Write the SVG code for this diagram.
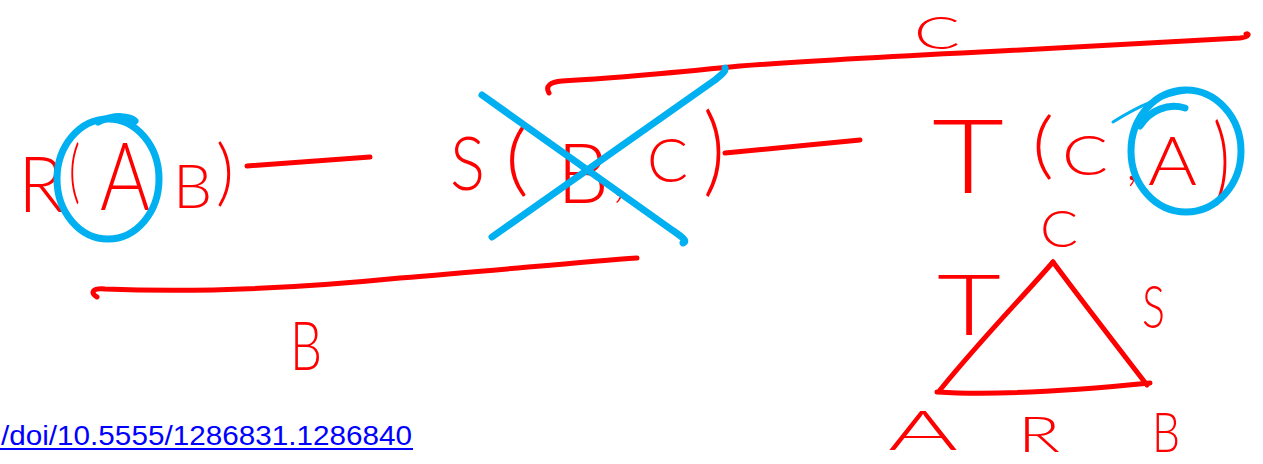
<svg xmlns="http://www.w3.org/2000/svg" width="1263" height="464" viewBox="0 0 1263 464">
<style>
.ink{fill:none;stroke:#ff0000;stroke-width:5;stroke-linecap:round;stroke-linejoin:round}
.blue{fill:none;stroke:#00b0f0;stroke-width:7;stroke-linecap:round;stroke-linejoin:round}
.hw{font-family:"Lato","Liberation Sans",sans-serif;font-weight:300;fill:#ff0000}
.link{font-family:"Liberation Sans",Arial,sans-serif;font-size:28px;fill:#0000ff}
</style>
<rect width="1263" height="464" fill="#ffffff"/>
<g id="connectors">
  <path class="ink" d="M247,166 L370,157"/>
  <path class="ink" d="M725,153 L860,140"/>
  <path class="ink" d="M549,93 C545,86 550,82 562,81 C620,78 680,72 740,66 C820,60 900,56 1000,51 C1100,46 1180,42 1240,38 C1250,37 1249,33 1246,34"/>
  <path class="ink" d="M97,297 C90,293 92,288 105,289 C200,293 300,288 400,278 C500,270 580,262 637,258"/>
  <path class="ink" d="M1053,262 C1020,300 985,335 940,390"/>
  <path class="ink" d="M1053,262 C1085,305 1120,350 1147,385"/>
  <path class="ink" d="M937,392 C1000,396 1080,390 1150,383"/>
  <text class="hw" x="914" y="49" font-size="46" textLength="46" lengthAdjust="spacingAndGlyphs">C</text>
  <text class="hw" x="290" y="370" font-size="67" textLength="32" lengthAdjust="spacingAndGlyphs">B</text>
</g>
<g id="node-R">
  <text class="hw" x="18" y="212" font-size="76">R</text>
  <text class="hw" x="69" y="195" font-size="69" textLength="11" lengthAdjust="spacingAndGlyphs">(</text>
  <text class="hw" x="100" y="210" font-size="94" textLength="50" lengthAdjust="spacingAndGlyphs">A</text>
  <text class="hw" x="173" y="208" font-size="62">B</text>
  <text class="hw" x="216" y="197" font-size="73" textLength="18" lengthAdjust="spacingAndGlyphs">)</text>
  <ellipse class="blue" cx="108" cy="179" rx="51" ry="60"/>
  <path class="blue" d="M98,122 C115,114 130,116 135,121"/>
</g>
<g id="node-S">
  <text class="hw" x="450" y="190" font-size="74" textLength="35" lengthAdjust="spacingAndGlyphs">S</text>
  <text class="hw" x="505" y="186" font-size="80" textLength="24" lengthAdjust="spacingAndGlyphs">(</text>
  <text class="hw" x="557" y="203" font-size="82">B</text>
  <text class="hw" x="612" y="196" font-size="56" textLength="14" lengthAdjust="spacingAndGlyphs">,</text>
  <text class="hw" x="647" y="182" font-size="61" textLength="41" lengthAdjust="spacingAndGlyphs">C</text>
  <text class="hw" x="703" y="184" font-size="99" textLength="22" lengthAdjust="spacingAndGlyphs">)</text>
  <path class="blue" d="M482,95 L672,230 C682,237 688,241 683,243"/>
  <path class="blue" d="M492,237 L715,80 C722,74 726,71 725,68"/>
</g>
<g id="node-T">
  <text class="hw" x="932" y="193" font-size="102" textLength="72" lengthAdjust="spacingAndGlyphs">T</text>
  <text class="hw" x="1032" y="170" font-size="72" textLength="22" lengthAdjust="spacingAndGlyphs">(</text>
  <text class="hw" x="1062" y="175" font-size="56" textLength="46" lengthAdjust="spacingAndGlyphs">C</text>
  <text class="hw" x="1126" y="180" font-size="50" textLength="12" lengthAdjust="spacingAndGlyphs">,</text>
  <text class="hw" x="1148" y="185" font-size="67" textLength="49" lengthAdjust="spacingAndGlyphs">A</text>
  <text class="hw" x="1213" y="193" font-size="96" textLength="17" lengthAdjust="spacingAndGlyphs">)</text>
  <ellipse class="blue" cx="1186" cy="151" rx="55" ry="61"/>
  <path class="blue" d="M1185,108 C1168,103 1150,110 1140,126"/>
  <path class="blue" style="stroke-width:3" d="M1113,122 C1140,105 1165,95 1185,92"/>
</g>
<g id="hypergraph">
  <g id="vertex-C"><text class="hw" x="1040" y="247" font-size="52" textLength="38" lengthAdjust="spacingAndGlyphs">C</text></g>
  <g id="vertex-A"><text class="hw" x="888" y="450" font-size="56" textLength="70" lengthAdjust="spacingAndGlyphs">A</text></g>
  <g id="vertex-B"><text class="hw" x="1152" y="452" font-size="56" textLength="28" lengthAdjust="spacingAndGlyphs">B</text></g>
  <g id="edge-T"><text class="hw" x="937" y="335" font-size="84" textLength="64" lengthAdjust="spacingAndGlyphs">T</text></g>
  <g id="edge-S"><text class="hw" x="1142" y="328" font-size="60" textLength="23" lengthAdjust="spacingAndGlyphs">S</text></g>
  <g id="edge-R"><text class="hw" x="1018" y="452" font-size="50" textLength="42" lengthAdjust="spacingAndGlyphs">R</text></g>
</g>
<g id="link">
  <text class="link" x="1" y="445" textLength="411" lengthAdjust="spacingAndGlyphs">/doi/10.5555/1286831.1286840</text>
  <rect x="0" y="448" width="413" height="2" fill="#0000ff"/>
</g>
</svg>
